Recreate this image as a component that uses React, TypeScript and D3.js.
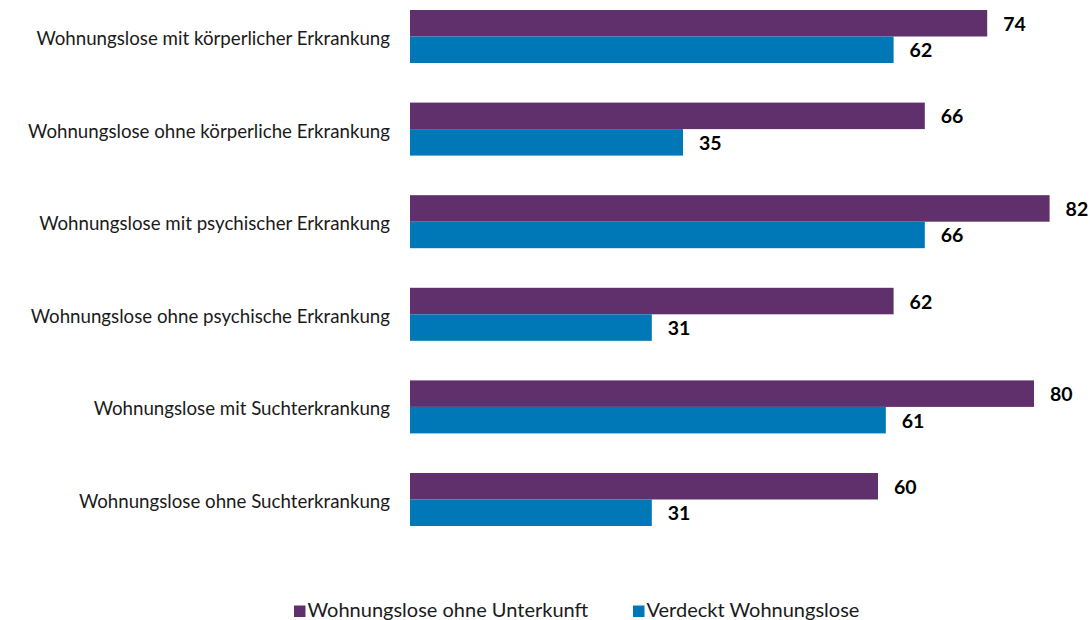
import React from 'react';
import * as d3 from 'd3';

const categories = [
  'Wohnungslose mit körperlicher Erkrankung',
  'Wohnungslose ohne körperliche Erkrankung',
  'Wohnungslose mit psychischer Erkrankung',
  'Wohnungslose ohne psychische Erkrankung',
  'Wohnungslose mit Suchterkrankung',
  'Wohnungslose ohne Suchterkrankung',
];
const seriesNames = ['Wohnungslose ohne Unterkunft', 'Verdeckt Wohnungslose'];
const ohneUnterkunft = [74, 66, 82, 62, 80, 60];
const verdeckt = [62, 35, 66, 31, 61, 31];
const colors = ['#60306c', '#0077b6'];

const W = 1090;
const H = 620;
const FONT = 'Lato, "Open Sans", sans-serif';

const App: React.FC = () => {
  const x = d3.scaleLinear().domain([0, 100]).range([410, 1190]);
  const step = 92.6;
  const pad = 39.6 / step;
  const y = d3.scaleBand<string>()
    .domain(categories)
    .range([10 - step * pad / 2, 10 - step * pad / 2 + step * categories.length])
    .paddingInner(pad)
    .paddingOuter(pad / 2);
  const inner = d3.scaleBand<number>().domain([0, 1]).range([0, y.bandwidth()]);
  const series = [ohneUnterkunft, verdeckt];

  const legendX = [294, 633];

  return (
    <svg width={W} height={H} style={{ position: 'absolute', left: 0, top: 0, background: '#fff' }}>
      {categories.map((c, i) => {
        const y0 = y(c) as number;
        return (
          <g key={c}>
            <text x={390} y={y0 + y.bandwidth() / 2 + 8.5} textAnchor="end" fontFamily={FONT} fontSize={18.7} fill="#1a1a1a">
              {c}
            </text>
            {series.map((s, k) => (
              <g key={k}>
                <rect x={x(0)} y={y0 + (inner(k) as number)} width={x(s[i]) - x(0)} height={inner.bandwidth()} fill={colors[k]} />
                <text x={x(s[i]) + 16} y={y0 + (inner(k) as number) + inner.bandwidth() / 2 + 7.5} fontFamily={FONT} fontWeight="bold" fontSize={19.5} fill="#000">
                  {s[i]}
                </text>
              </g>
            ))}
          </g>
        );
      })}
      {seriesNames.map((n, k) => (
        <g key={n}>
          <rect x={legendX[k]} y={605.5} width={11.5} height={11.5} fill={colors[k]} />
          <text x={legendX[k] + 13.5} y={617} fontFamily={FONT} fontSize={20} fill="#1a1a1a">{n}</text>
        </g>
      ))}
    </svg>
  );
};

export default App;
